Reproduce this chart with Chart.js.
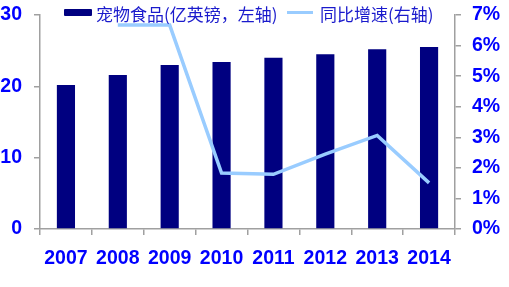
<!DOCTYPE html>
<html><head><meta charset="utf-8">
<script src="https://cdn.jsdelivr.net/npm/chart.js@4.4.0/dist/chart.umd.min.js"></script>
<style>
html,body{margin:0;padding:0;background:#fff;}
#wrap{position:relative;width:509px;height:287px;}
#legend{position:absolute;left:0;top:0;width:509px;height:30px;font-family:"Noto Sans CJK SC",sans-serif;font-size:17px;color:#1a1acc;}
#legend .sw1{position:absolute;left:64px;top:9px;width:28px;height:7px;background:#000080;border-radius:1px;}
#legend .t1{position:absolute;left:96px;top:2px;line-height:24px;white-space:nowrap;}
#legend .sw2{position:absolute;left:287px;top:11px;width:26px;height:3px;background:#99CCFF;}
#legend .t2{position:absolute;left:320px;top:2px;line-height:24px;white-space:nowrap;}
</style></head>
<body><div id="wrap"><canvas id="c" width="509" height="287"></canvas>
<div id="legend"><div class="sw1"></div><div class="t1">宠物食品(亿英镑，左轴)</div><div class="sw2"></div><div class="t2">同比增速(右轴)</div></div></div>
<script>
const categories = ['2007','2008','2009','2010','2011','2012','2013','2014'];
const petFood = [20.2, 21.6, 23.0, 23.4, 24.0, 24.5, 25.2, 25.5];
const growthPct = [null, 6.67, 6.67, 1.83, 1.79, 2.45, 3.06, 1.51];
const leftTicks = [0, 10, 20, 30];
const rightTicks = [0, 1, 2, 3, 4, 5, 6, 7];

const tickFont = {family: '"Liberation Sans", Arial, sans-serif', size: 19.5, weight: 'bold'};
const axisGrey = '#a0a0a0';

new Chart(document.getElementById('c'), {
  type: 'bar',
  data: {
    labels: categories,
    datasets: [
      {type: 'line', label: '同比增速(右轴)', data: growthPct, yAxisID: 'y1', borderColor: '#99CCFF', backgroundColor: '#99CCFF', borderWidth: 3.5, pointRadius: 0, tension: 0, order: 1},
      {type: 'bar', label: '宠物食品(亿英镑，左轴)', data: petFood, yAxisID: 'y', backgroundColor: '#000080', categoryPercentage: 1, barPercentage: 0.35, order: 2}
    ]
  },
  options: {
    responsive: false,
    animation: false,
    layout: {padding: {top: 15, left: 0, right: 0, bottom: 0}},
    plugins: {legend: {display: false}, tooltip: {enabled: false}},
    scales: {
      x: {
        offset: true,
        grid: {display: true, drawOnChartArea: false, offset: true, color: axisGrey, tickLength: 6, lineWidth: 1.5},
        border: {color: axisGrey, width: 1.5},
        ticks: {color: '#0000FF', font: tickFont, padding: 12, maxRotation: 0, autoSkip: false},
        afterFit: s => { s.height = 58; s.paddingLeft = 0; s.paddingRight = 0; }
      },
      y: {
        position: 'left', min: 0, max: 30,
        afterBuildTicks: s => { s.ticks = leftTicks.map(v => ({value: v})); },
        grid: {display: true, drawOnChartArea: false, color: axisGrey, tickLength: 6, lineWidth: 1.5},
        border: {color: axisGrey, width: 1.5},
        ticks: {color: '#0000FF', font: tickFont, padding: 12},
        afterFit: s => { s.width = 40; s.paddingTop = 0; s.paddingBottom = 0; }
      },
      y1: {
        position: 'right', min: 0, max: 7,
        afterBuildTicks: s => { s.ticks = rightTicks.map(v => ({value: v})); },
        grid: {display: true, drawOnChartArea: false, color: axisGrey, tickLength: 6, lineWidth: 1.5},
        border: {color: axisGrey, width: 1.5},
        ticks: {color: '#0000FF', font: tickFont, padding: 11, callback: v => v + '%'},
        afterFit: s => { s.width = 54; s.paddingTop = 0; s.paddingBottom = 0; }
      }
    }
  }
});
</script></body></html>
